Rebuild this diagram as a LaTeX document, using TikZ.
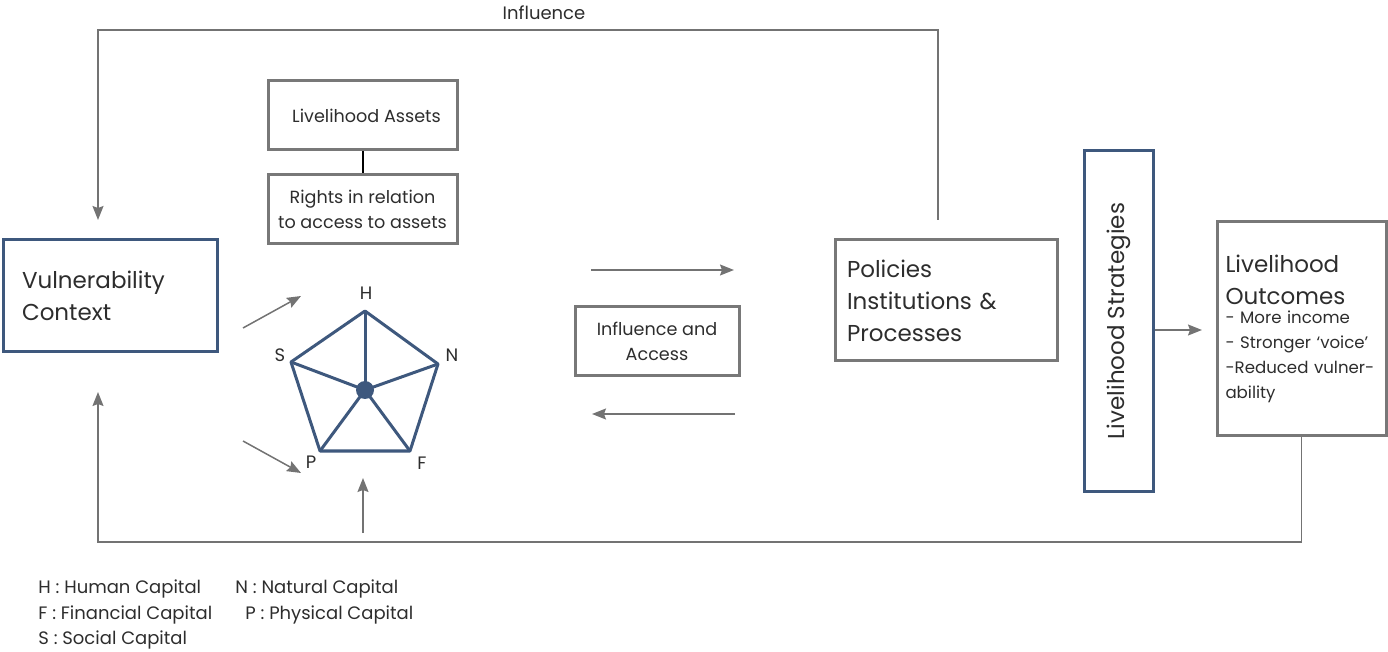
\documentclass[tikz,border=0pt]{standalone}
\usepackage{fontspec}
\setmainfont{Poppins}
\usepackage{tikz}
\usetikzlibrary{arrows.meta}
\definecolor{boxgray}{RGB}{120,120,120}
\definecolor{linegray}{RGB}{115,115,115}
\definecolor{slblue}{RGB}{62,88,125}
\definecolor{txtgray}{RGB}{45,45,45}
\tikzstyle{graybox} = [rectangle, draw=boxgray, line width=1.5pt, text=txtgray, font=\fontsize{8.8}{12.5}\selectfont, align=center]
\tikzstyle{bluebox} = [rectangle, draw=slblue, line width=1.5pt, text=txtgray]
\tikzstyle{bigtext} = [font=\fontsize{11.5}{16}\selectfont]
\tikzstyle{arrow} = [draw=linegray, line width=0.75pt, -{Stealth[length=7pt,width=5.5pt,inset=1pt]}]
\tikzstyle{edge} = [draw=slblue, line width=1.5pt]
\tikzstyle{captext} = [text=txtgray, font=\fontsize{9}{12.5}\selectfont]

\begin{document}
\begin{tikzpicture}[x=0.5pt, y=-0.5pt]
\useasboundingbox (0,0) rectangle (1388,652);

% Boxes
\node (vuln) [bluebox, bigtext, minimum width=107pt, minimum height=56pt, text width=88pt, inner xsep=9.5pt, align=left] at (110,296) {Vulnerability\\Context};
\node (assets) [graybox, minimum width=94.5pt, minimum height=34.5pt] at (362.5,115.5) {\hspace*{4pt}Livelihood Assets};
\node (rights) [graybox, minimum width=94.5pt, minimum height=34.5pt] at (362.5,209.5) {Rights in relation\\to access to assets};
\node (access) [graybox, minimum width=82pt, minimum height=34.5pt] at (657,341.5) {Influence and\\Access};
\node (policies) [graybox, bigtext, minimum width=111pt, minimum height=60.5pt, text width=99pt, inner xsep=6pt, align=left] at (946,300.5) {Policies\\Institutions \&\\Processes};
\node (strategies) [bluebox, bigtext, rotate=90, minimum width=170pt, minimum height=34.5pt] at (1118.5,321) {Livelihood Strategies};
\node (outcomes) [graybox, font=\fontsize{8.3}{12.5}\selectfont, minimum width=84.5pt, minimum height=107pt, text width=76pt, inner xsep=4.25pt, align=left] at (1301.5,329) {{\fontsize{11.5}{16}\selectfont Livelihood\\Outcomes\\[-3pt]}- More income\\- Stronger ‘voice’\\-Reduced vulner-\\ability};

\draw [black, line width=1pt] (assets) -- (rights);

% Asset pentagon
\coordinate (H) at (365,311);
\coordinate (N) at (438,364);
\coordinate (F) at (410,451);
\coordinate (P) at (320,451);
\coordinate (S) at (291,362);
\node (hub) [circle, fill=slblue, inner sep=0pt, minimum size=9pt] at (365,390) {};
\draw [edge, line join=round] (H) -- (N) -- (F) -- (P) -- (S) -- cycle;
\foreach \v in {H,N,F,P,S} \draw [edge] (hub.center) -- (\v);
\node (labH) [captext] at (366,293) {H};
\node (labN) [captext] at (452,355) {N};
\node (labF) [captext] at (422,463) {F};
\node (labP) [captext] at (311,462) {P};
\node (labS) [captext] at (280,355) {S};

% Arrows
\coordinate (inA) at (243,328);
\coordinate (inB) at (301,296);
\coordinate (inC) at (243,441);
\coordinate (inD) at (301,473);
\coordinate (upfoot) at (363,533);
\coordinate (uphead) at (363,478);
\draw [arrow] (inA) -- (inB);
\draw [arrow] (inC) -- (inD);
\draw [arrow] (upfoot) -- (uphead);

\coordinate (toL) at (591,270);
\coordinate (toR) at (734,270);
\coordinate (backR) at (735,414);
\coordinate (backL) at (592,414);
\draw [arrow] (toL) -- (toR);
\draw [arrow] (backR) -- (backL);

\coordinate (outhead) at (1202,330);
\draw [arrow] (strategies.south |- outhead) -- (outhead);

% Influence loop (top)
\coordinate (inftail) at (938,220);
\coordinate (infturn) at (98,30);
\coordinate (infhead) at (98,220);
\draw [arrow] (inftail) |- (infturn) -- (infhead);
\node (influence) [captext] at (544,13) {Influence};

% Feedback loop (bottom)
\coordinate (fbturn) at (98,542);
\coordinate (fbhead) at (98,392);
\draw [arrow] (outcomes.south) |- (fbturn) -- (fbhead);

% Legend
\node (legH) [captext, anchor=west, inner xsep=0pt] at (38,589) {H : Human Capital};
\node (legN) [captext, anchor=west, inner xsep=0pt] at (235,589) {N : Natural Capital};
\node (legF) [captext, anchor=west, inner xsep=0pt] at (38,615) {F : Financial Capital};
\node (legP) [captext, anchor=west, inner xsep=0pt] at (245,615) {P : Physical Capital};
\node (legS) [captext, anchor=west, inner xsep=0pt] at (38,640) {S : Social Capital};

\end{tikzpicture}
\end{document}
